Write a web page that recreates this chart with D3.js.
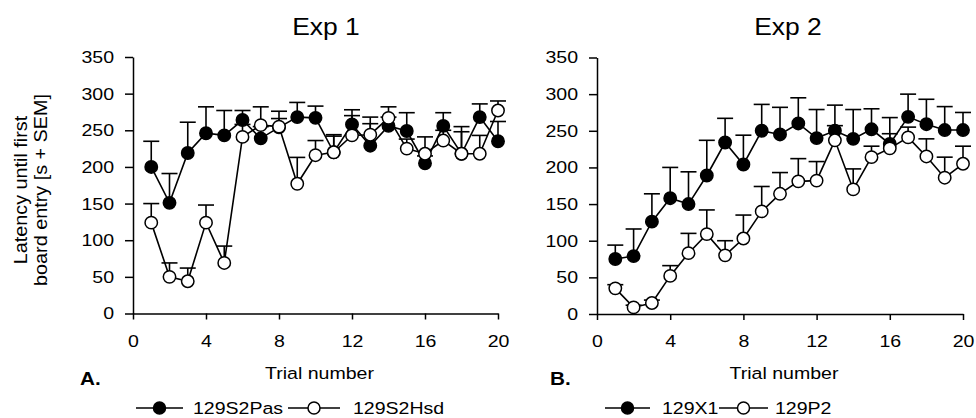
<!DOCTYPE html>
<html>
<head>
<meta charset="utf-8">
<script src="https://cdn.jsdelivr.net/npm/d3@7"></script>
<style>
  html, body { margin: 0; padding: 0; background: #fff; }
  svg text { font-family: "Liberation Sans", Arial, sans-serif; fill: #000; }
</style>
</head>
<body>
<svg id="chart" width="976" height="418"></svg>
<script>
// Trial numbers 1..20
const trials = [1,2,3,4,5,6,7,8,9,10,11,12,13,14,15,16,17,18,19,20];
const xTicks = [0,4,8,12,16,20];
const yTicks = [0,50,100,150,200,250,300,350];

// Exp 1: latency means and mean+SEM (s)
const exp1Pas    = [200,151,219,246,243,264,239,254,268,267,220,258,229,256,249,205,256,218,268,235];
const exp1PasTop = [235,191,261,282,277,277,255,276,288,283,242,278,259,268,274,215,274,248,286,262];
const exp1Hsd    = [124,50,44,124,69,241,257,255,177,216,220,243,244,267,225,218,236,218,218,277];
const exp1HsdTop = [150,69,62,148,92,258,282,266,213,236,244,270,268,282,238,241,250,255,243,290];

// Exp 2: latency means and mean+SEM (s)
const exp2X1     = [75,79,126,158,150,189,234,204,250,245,260,240,250,239,252,232,269,259,251,251];
const exp2X1Top  = [94,116,164,200,194,237,267,244,286,282,295,279,285,279,280,268,300,293,283,275];
const exp2P2     = [35,9,15,52,83,109,80,103,140,164,181,182,237,170,214,226,241,215,186,205];
const exp2P2Top  = [40,12,19,66,110,142,100,135,174,193,212,208,257,198,229,246,255,239,214,229];

const svg = d3.select("#chart");
const SX = 1.15; // horizontal text stretch

function stretchText(sel) {
  sel.each(function () {
    const t = d3.select(this);
    const x = +t.attr("x") || 0;
    const y = +t.attr("y") || 0;
    t.attr("x", 0).attr("y", 0)
     .attr("transform", `translate(${x},${y}) scale(${SX},1)`);
  });
}

function panel(opts) {
  const x = d3.scaleLinear().domain([0, 20]).range([opts.x0, opts.x1]);
  const y = d3.scaleLinear().domain([0, 350]).range([opts.y0, opts.y1]);
  const g = svg.append("g");

  const xAxis = g.append("g")
    .attr("transform", `translate(0,${opts.y0})`)
    .call(d3.axisBottom(x).tickValues(xTicks).tickSize(6).tickPadding(15).tickSizeOuter(0));
  const yAxis = g.append("g")
    .attr("transform", `translate(${opts.x0},0)`)
    .call(d3.axisLeft(y).tickValues(yTicks).tickSize(8).tickPadding(11).tickSizeOuter(0));
  [xAxis, yAxis].forEach(a => {
    a.select(".domain").attr("stroke", "#000").attr("stroke-width", 1.5);
    a.selectAll(".tick line").attr("stroke", "#000").attr("stroke-width", 1.5);
    a.selectAll(".tick text").attr("font-size", 17).attr("font-family", "Liberation Sans, Arial, sans-serif").attr("fill", "#000");
  });
  xAxis.selectAll(".tick text").each(function () {
    const t = d3.select(this);
    t.attr("transform", `scale(${SX},1)`).attr("x", 0);
  });
  yAxis.selectAll(".tick text").each(function () {
    const t = d3.select(this);
    t.attr("transform", `translate(-19,0) scale(${SX},1)`).attr("x", 0);
  });

  const series = [
    { m: opts.filled, top: opts.filledTop, fill: "#000" },
    { m: opts.open, top: opts.openTop, fill: "#fff" }
  ];
  const line = d3.line().x((d, i) => x(trials[i])).y(d => y(d));
  series.forEach(s => {
    const sg = g.append("g");
    // upward SEM bars
    sg.selectAll("line.err").data(s.m).join("line")
      .attr("x1", (d, i) => x(trials[i])).attr("x2", (d, i) => x(trials[i]))
      .attr("y1", d => y(d)).attr("y2", (d, i) => y(s.top[i]))
      .attr("stroke", "#000").attr("stroke-width", 1.6);
    sg.selectAll("line.cap").data(s.top).join("line")
      .attr("x1", (d, i) => x(trials[i]) - 8).attr("x2", (d, i) => x(trials[i]) + 8)
      .attr("y1", d => y(d)).attr("y2", d => y(d))
      .attr("stroke", "#000").attr("stroke-width", 1.6);
    sg.append("path").datum(s.m).attr("d", line)
      .attr("fill", "none").attr("stroke", "#000").attr("stroke-width", 1.6);
    sg.selectAll("circle").data(s.m).join("circle")
      .attr("cx", (d, i) => x(trials[i])).attr("cy", d => y(d)).attr("r", 6.2)
      .attr("fill", s.fill).attr("stroke", "#000").attr("stroke-width", 1.5);
  });

  // title
  svg.append("text").attr("x", opts.titleX).attr("y", 35).attr("text-anchor", "middle")
    .attr("font-size", 23).text(opts.title).call(stretchText);
  // x-axis title
  svg.append("text").attr("x", (opts.x0 + opts.x1) / 2 + 4).attr("y", 379).attr("text-anchor", "middle")
    .attr("font-size", 17).text("Trial number").call(stretchText);
  // panel letter
  svg.append("text").attr("x", opts.letterX).attr("y", 385)
    .attr("font-size", 18).attr("font-weight", "bold").text(opts.letter).call(stretchText);

  // legend
  const lg = svg.append("g");
  opts.legend.forEach(L => {
    lg.append("line").attr("x1", L.l0).attr("x2", L.l1).attr("y1", 408).attr("y2", 408)
      .attr("stroke", "#000").attr("stroke-width", 1.6);
    lg.append("circle").attr("cx", (L.l0 + L.l1) / 2).attr("cy", 408).attr("r", 6)
      .attr("fill", L.fill).attr("stroke", "#000").attr("stroke-width", 1.5);
    lg.append("text").attr("x", L.tx).attr("y", 413.5).attr("font-size", 17).text(L.label).call(stretchText);
  });
}

panel({
  x0: 133, x1: 498, y0: 313.5, y1: 57,
  filled: exp1Pas, filledTop: exp1PasTop, open: exp1Hsd, openTop: exp1HsdTop,
  title: "Exp 1", titleX: 326, letter: "A.", letterX: 80,
  legend: [
    { l0: 136, l1: 183, fill: "#000", tx: 193, label: "129S2Pas" },
    { l0: 288, l1: 340, fill: "#fff", tx: 353, label: "129S2Hsd" }
  ]
});

panel({
  x0: 597, x1: 963, y0: 314, y1: 57.5,
  filled: exp2X1, filledTop: exp2X1Top, open: exp2P2, openTop: exp2P2Top,
  title: "Exp 2", titleX: 788, letter: "B.", letterX: 550,
  legend: [
    { l0: 605, l1: 650, fill: "#000", tx: 662, label: "129X1" },
    { l0: 719, l1: 768, fill: "#fff", tx: 775, label: "129P2" }
  ]
});

// shared y-axis label, two lines
const yl = svg.append("text")
  .attr("transform", "translate(0,190) rotate(-90) scale(1.1,1)")
  .attr("text-anchor", "middle").attr("font-size", 18);
yl.append("tspan").attr("x", 0).attr("y", 27).text("Latency until first");
yl.append("tspan").attr("x", 0).attr("y", 47).text("board entry [s + SEM]");
</script>
</body>
</html>
